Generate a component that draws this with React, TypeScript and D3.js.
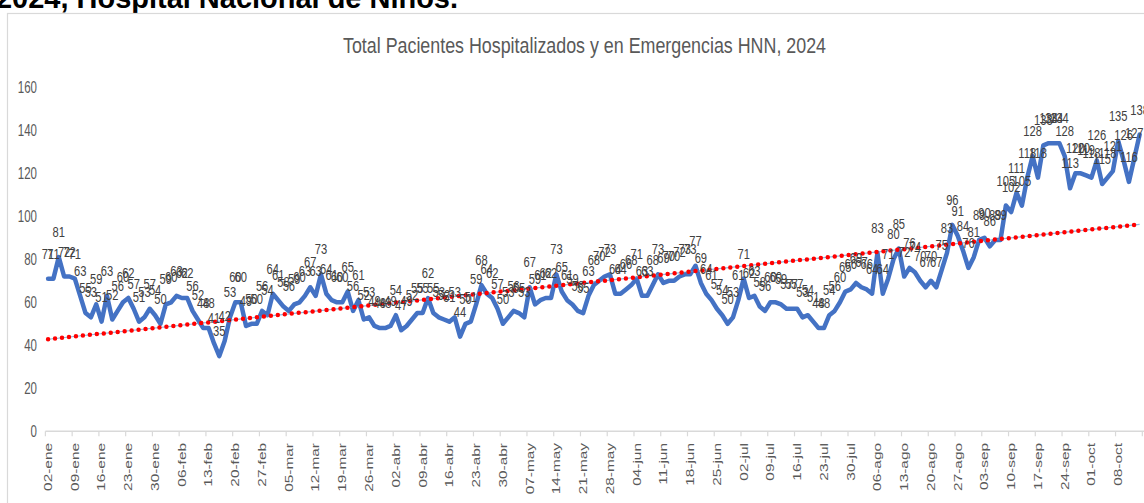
import React from "react";
import * as d3 from "d3";

// daily (weekday) totals, 02-ene .. 14-oct 2024
const totals = [
  71, 71, 81, 72, 72, 71, 63, 55, 53, 59,
  51, 63, 52, 56, 60, 62, 57, 51, 53, 57,
  54, 50, 59, 60, 63, 62, 62, 56, 52, 48,
  48, 41, 35, 42, 53, 60, 60, 49, 50, 50,
  56, 54, 64, 61, 58, 56, 59, 60, 63, 67,
  63, 73, 64, 61, 60, 60, 65, 56, 61, 52,
  53, 49, 48, 48, 49, 54, 47, 49, 52, 55,
  55, 62, 55, 53, 52, 51, 53, 44, 50, 51,
  59, 68, 64, 62, 57, 50, 53, 56, 55, 53,
  67, 59, 61, 62, 62, 73, 65, 61, 59, 56,
  55, 63, 68, 70, 72, 73, 64, 64, 66, 68,
  71, 63, 63, 68, 73, 69, 70, 70, 72, 73,
  73, 77, 69, 64, 61, 57, 54, 50, 53, 61,
  71, 62, 63, 58, 56, 60, 60, 59, 57, 57,
  57, 53, 54, 51, 48, 48, 54, 56, 60, 65,
  66, 69, 67, 66, 64, 83, 64, 71, 80, 85,
  72, 76, 74, 70, 67, 70, 67, 75, 83, 96,
  91, 84, 76, 81, 89, 90, 86, 89, 89, 105,
  102, 111, 105, 118, 128, 118, 133, 134, 134, 134,
  128, 113, 120, 120, 119, 118, 126, 115, 118, 121,
  135, 126, 116, 127, 138,
];

// one label every 5 categories (weekly)
const weekLabels = [
  "02-ene", "09-ene", "16-ene", "23-ene", "30-ene", "06-feb", "13-feb",
  "20-feb", "27-feb", "05-mar", "12-mar", "19-mar", "26-mar", "02-abr",
  "09-abr", "16-abr", "23-abr", "30-abr", "07-may", "14-may", "21-may",
  "28-may", "04-jun", "11-jun", "18-jun", "25-jun", "02-jul", "09-jul",
  "16-jul", "23-jul", "30-jul", "06-ago", "13-ago", "20-ago", "27-ago",
  "03-sep", "10-sep", "17-sep", "24-sep", "01-oct", "08-oct",
];

const yTicks = [0, 20, 40, 60, 80, 100, 120, 140, 160];

const W = 1144;
const H = 503;
const SQ = 0.72; // the picture is squeezed horizontally
const font = "'Liberation Sans', Arial, sans-serif";

export default function App() {
  const idx = d3.range(totals.length);
  const x = d3.scaleBand<number>().domain(idx).range([45.4, 1142.3]);
  const cx = (i: number) => (x(i) as number) + x.bandwidth() / 2;
  const y = d3.scaleLinear().domain([0, 160]).range([431.3, 87.3]);

  const line = d3
    .line<number>()
    .x((_, i) => cx(i))
    .y((d) => y(d));

  // linear trend (least squares over category index)
  const mx = d3.mean(idx) as number;
  const my = d3.mean(totals) as number;
  const slope =
    d3.sum(idx, (i) => (i - mx) * (totals[i] - my)) /
    d3.sum(idx, (i) => (i - mx) ** 2);
  const icpt = my - slope * mx;
  const trendPts: [number, number][] = [0, totals.length - 1].map((i) => [
    cx(i),
    y(icpt + slope * i),
  ]);
  const trend = d3.line()(trendPts) as string;

  const tickIdx = d3.range(0, totals.length + 1, 5);

  return (
    <svg
      width={W}
      height={H}
      style={{ position: "absolute", left: 0, top: 0, background: "#fff" }}
    >
      <text
        x={-4}
        y={8}
        fontFamily={font}
        fontWeight="bold"
        fontSize={30}
        fill="#000"
        textLength={462}
        lengthAdjust="spacingAndGlyphs"
      >
        2024, Hospital Nacional de Niños.
      </text>
      <rect
        x={7.5}
        y={13.5}
        width={1200}
        height={600}
        fill="#fff"
        stroke="#d9d9d9"
        strokeWidth={1.2}
      />

      <text
        x={584.5}
        y={53}
        textAnchor="middle"
        fontFamily={font}
        fontSize={22}
        fill="#595959"
        textLength={483}
        lengthAdjust="spacingAndGlyphs"
      >
        Total Pacientes Hospitalizados y en Emergencias HNN, 2024
      </text>

      {yTicks.map((t) => (
        <text
          key={t}
          transform={`translate(37,${y(t)}) scale(${SQ},1)`}
          dy="0.35em"
          textAnchor="end"
          fontFamily={font}
          fontSize={16}
          fill="#595959"
        >
          {t}
        </text>
      ))}

      <line x1={45.4} x2={W} y1={y(0)} y2={y(0)} stroke="#d9d9d9" strokeWidth={1.5} />
      {tickIdx.map((i) => {
        const tx = i < totals.length ? (x(i) as number) : 1142.3;
        return (
          <line key={i} x1={tx} x2={tx} y1={y(0)} y2={y(0) + 5} stroke="#d9d9d9" strokeWidth={1.2} />
        );
      })}
      {weekLabels.map((lab, k) => (
        <text
          key={lab}
          transform={`translate(${cx(k * 5)},443) scale(${SQ},1) rotate(-90)`}
          dy="0.35em"
          textAnchor="end"
          fontFamily={font}
          fontSize={15.4}
          fill="#595959"
        >
          {lab}
        </text>
      ))}

      <path
        d={line(totals) as string}
        fill="none"
        stroke="#4472C4"
        strokeWidth={4.5}
        strokeLinejoin="round"
        strokeLinecap="round"
      />

      <path d={trend} fill="none" stroke="#5B9BD5" strokeWidth={1.2} opacity={0.7} />
      <path
        d={trend}
        fill="none"
        stroke="#FF0000"
        strokeWidth={4.5}
        strokeLinecap="round"
        strokeDasharray="0 7"
      />

      {totals.map((v, i) => (
        <text
          key={i}
          transform={`translate(${cx(i)},${y(v) - 20}) scale(${SQ},1)`}
          textAnchor="middle"
          fontFamily={font}
          fontSize={15.5}
          fill="#404040"
        >
          {v}
        </text>
      ))}
    </svg>
  );
}
